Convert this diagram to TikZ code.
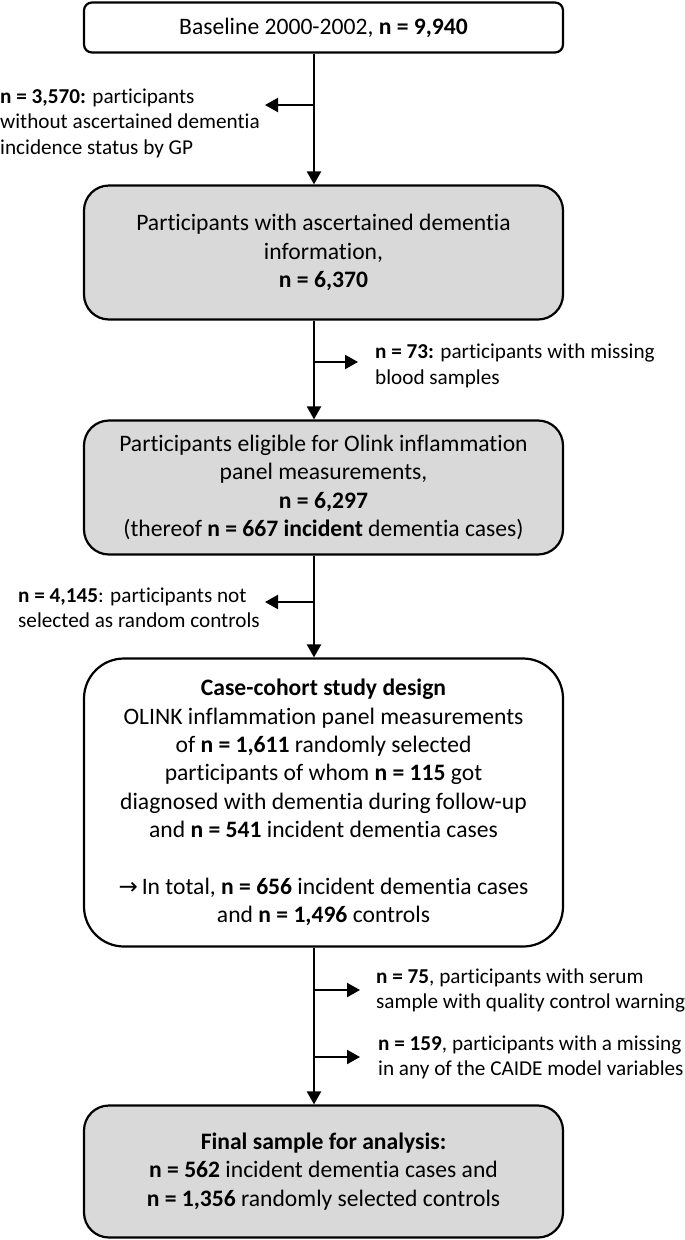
\documentclass[tikz,border=0pt]{standalone}
\usepackage{fontspec}
\setmainfont{Carlito}[RawFeature={-liga;-clig;-calt;-dlig}]
\newfontfamily\symfont{DejaVu Sans}
\usetikzlibrary{arrows.meta}
\definecolor{boxgray}{HTML}{D9D9D9}
\tikzset{
  box/.style={draw=black, line width=2.2pt, align=center, inner sep=0pt,
    minimum width=479pt, font=\fontsize{23.6}{28.3}\selectfont},
  graybox/.style={box, fill=boxgray},
  side/.style={align=left, anchor=west, inner sep=0pt,
    font=\fontsize{21.2}{25.5}\selectfont},
  arr/.style={line width=2.2pt, -{Triangle[length=13pt,width=14pt]}},
}
\begin{document}
\begin{tikzpicture}[x=1pt,y=-1pt]
\useasboundingbox (0,0) rectangle (685,1240);
\coordinate (spine) at (314,0);
% boxes
\node[box, fill=white, rounded corners=8pt, minimum height=50pt] (b1) at (323.5,27.5)
  {Baseline 2000-2002, \textbf{n = 9,940}};
\node[graybox, rounded corners=25pt, minimum height=134pt] (b2) at (323.5,252.5)
  {Participants with ascertained dementia\\ information,\\ \textbf{n = 6,370}};
\node[graybox, rounded corners=25pt, minimum height=134pt] (b3) at (323.5,487.5)
  {Participants eligible for Olink inflammation\\ panel measurements,\\ \textbf{n = 6,297}\\ (thereof \textbf{n = 667 incident} dementia cases)};
\node[box, fill=white, rounded corners=40pt, minimum height=288pt] (b4) at (323.5,802.5)
  {\textbf{Case-cohort study design}\\
   OLINK inflammation panel measurements\\
   of \textbf{n = 1,611} randomly selected\\
   participants of whom \textbf{n = 115} got\\
   diagnosed with dementia during follow-up\\
   and \textbf{n = 541} incident dementia cases\\[28.3pt]
   {\symfont\fontsize{23}{28.3}\selectfont →}\,In total, \textbf{n = 656} incident dementia cases\\
   and \textbf{n = 1,496} controls};
\node[graybox, rounded corners=25pt, minimum height=132pt] (b5) at (323.5,1171.5)
  {\textbf{Final sample for analysis:}\\
   \textbf{n = 562} incident dementia cases and\\
   \textbf{n = 1,356} randomly selected controls};
% side texts
\node[side] (t1) at (0,123) {\textbf{n = 3,570:} participants\\ without ascertained dementia\\ incidence status by GP};
\node[side] (t2) at (375,366) {\textbf{n = 73:} participants with missing\\ blood samples};
\node[side] (t3) at (18,608) {\textbf{n = 4,145}: participants not\\ selected as random controls};
\node[side] (t4) at (376,990.5) {\textbf{n = 75}, participants with serum\\ sample with quality control warning};
\node[side] (t5) at (378,1057.5) {\textbf{n = 159}, participants with a missing\\ in any of the CAIDE model variables};
% main arrows
\draw[arr] (b1.south -| spine) -- (b2.north -| spine);
\draw[arr] (b2.south -| spine) -- (b3.north -| spine);
\draw[arr] (b3.south -| spine) -- (b4.north -| spine);
\draw[arr] (b4.south -| spine) -- (b5.north -| spine);
% side arrows
\coordinate (s1) at (314,105); \coordinate (e1) at (265,105);
\coordinate (s2) at (314,362); \coordinate (e2) at (358,362);
\coordinate (s3) at (314,602); \coordinate (e3) at (265,602);
\coordinate (s4) at (314,990); \coordinate (e4) at (360,990);
\coordinate (s5) at (314,1057); \coordinate (e5) at (360,1057);
\draw[arr] (s1) -- (e1);
\draw[arr] (s2) -- (e2);
\draw[arr] (s3) -- (e3);
\draw[arr] (s4) -- (e4);
\draw[arr] (s5) -- (e5);
\end{tikzpicture}
\end{document}
